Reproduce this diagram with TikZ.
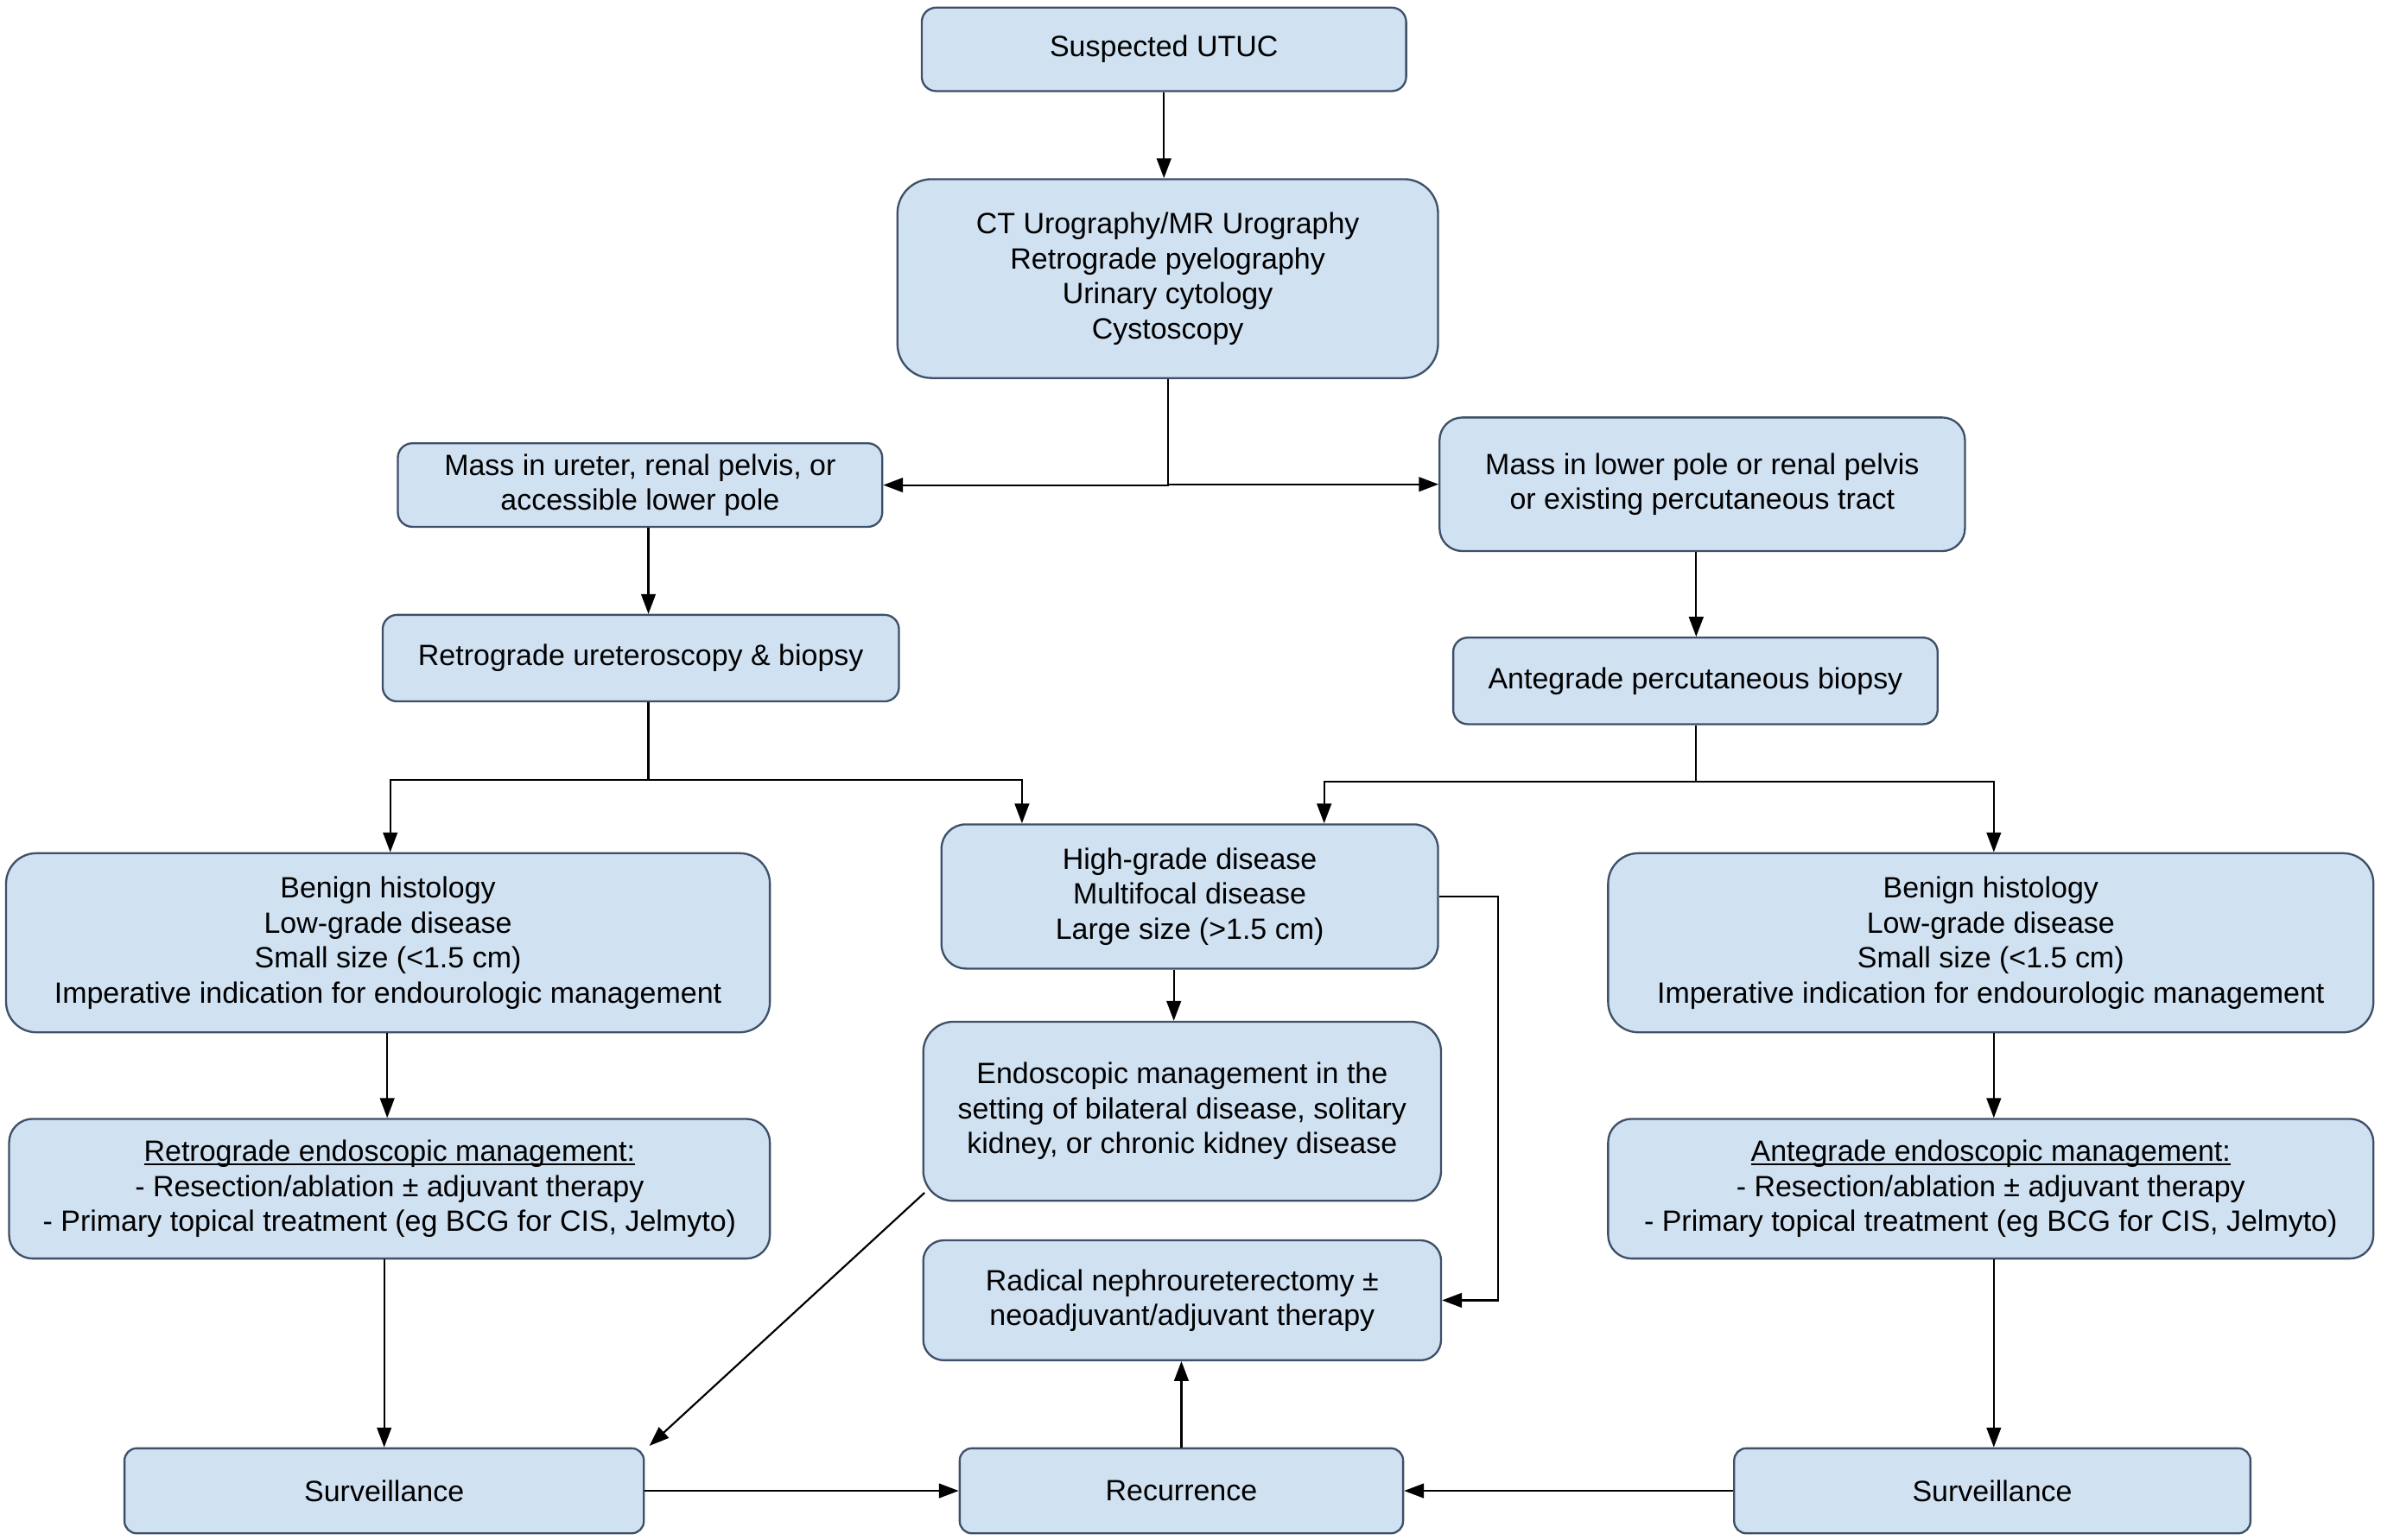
\documentclass[tikz,border=0pt]{standalone}
\usepackage{fontspec}
\setmainfont{Liberation Sans}
\usetikzlibrary{arrows.meta,calc}
\definecolor{boxfill}{RGB}{208,225,242}
\definecolor{boxline}{RGB}{62,80,104}
\newcommand{\myul}[1]{\setbox0\hbox{#1}\rlap{\rule[-1.3pt]{\wd0}{0.55pt}}\box0}
\tikzset{
  box/.style={draw=boxline, line width=0.75pt, fill=boxfill, align=center, inner sep=0pt,
    font=\fontsize{11pt}{13.1pt}\selectfont, text=black},
  arr/.style={draw=black, line width=0.7pt, -{Triangle[length=2.6mm,width=1.9mm]}},
  ln/.style={draw=black, line width=0.7pt}
}
\begin{document}
\begin{tikzpicture}
\useasboundingbox (0,0) rectangle (31.36,-20.28);
\fill[white] (0,0) rectangle (31.36,-20.28);

\node[box, rounded corners=0.19cm, minimum width=6.38cm, minimum height=1.10cm] (sus) at (15.33,-0.65) {Suspected UTUC};
\node[box, rounded corners=0.45cm, minimum width=7.12cm, minimum height=2.62cm] (ct) at (15.38,-3.67) {CT Urography/MR Urography\\Retrograde pyelography\\Urinary cytology\\Cystoscopy};
\node[box, rounded corners=0.19cm, minimum width=6.38cm, minimum height=1.10cm] (massL) at (8.43,-6.39) {Mass in ureter, renal pelvis, or\\accessible lower pole};
\node[box, rounded corners=0.30cm, minimum width=6.92cm, minimum height=1.76cm] (massR) at (22.42,-6.38) {Mass in lower pole or renal pelvis\\or existing percutaneous tract};
\node[box, rounded corners=0.19cm, minimum width=6.80cm, minimum height=1.14cm] (ureto) at (8.44,-8.67) {Retrograde ureteroscopy \& biopsy};
\node[box, rounded corners=0.19cm, minimum width=6.38cm, minimum height=1.14cm] (ante) at (22.33,-8.97) {Antegrade percutaneous biopsy};
\node[box, rounded corners=0.40cm, minimum width=10.06cm, minimum height=2.36cm] (benL) at (5.11,-12.42) {Benign histology\\Low-grade disease\\Small size (<1.5 cm)\\Imperative indication for endourologic management};
\node[box, rounded corners=0.32cm, minimum width=6.54cm, minimum height=1.90cm] (high) at (15.67,-11.81) {High-grade disease\\Multifocal disease\\Large size (>1.5 cm)};
\node[box, rounded corners=0.40cm, minimum width=10.08cm, minimum height=2.36cm] (benR) at (26.22,-12.42) {Benign histology\\Low-grade disease\\Small size (<1.5 cm)\\Imperative indication for endourologic management};
\node[box, rounded corners=0.31cm, minimum width=10.02cm, minimum height=1.84cm] (retM) at (5.13,-15.66) {\myul{Retrograde endoscopic management:}\\- Resection/ablation ± adjuvant therapy\\- Primary topical treatment (eg BCG for CIS, Jelmyto)};
\node[box, rounded corners=0.40cm, minimum width=6.82cm, minimum height=2.36cm] (endo) at (15.57,-14.64) {Endoscopic management in the\\setting of bilateral disease, solitary\\kidney, or chronic kidney disease};
\node[box, rounded corners=0.31cm, minimum width=10.08cm, minimum height=1.84cm] (antM) at (26.22,-15.66) {\myul{Antegrade endoscopic management:}\\- Resection/ablation ± adjuvant therapy\\- Primary topical treatment (eg BCG for CIS, Jelmyto)};
\node[box, rounded corners=0.27cm, minimum width=6.82cm, minimum height=1.58cm] (rad) at (15.57,-17.13) {Radical nephroureterectomy ±\\neoadjuvant/adjuvant therapy};
\node[box, rounded corners=0.16cm, minimum width=6.84cm, minimum height=1.12cm] (survL) at (5.06,-19.64) {Surveillance};
\node[box, rounded corners=0.16cm, minimum width=5.84cm, minimum height=1.12cm] (rec) at (15.56,-19.64) {Recurrence};
\node[box, rounded corners=0.16cm, minimum width=6.80cm, minimum height=1.12cm] (survR) at (26.24,-19.64) {Surveillance};

% connectors
\draw[arr] (sus.south) -- (sus.south |- ct.north);
\draw[arr] (ct.south) |- (massL.east);
\draw[arr] (ct.south) |- (massR.west);
\draw[arr] ([xshift=0.11cm]massL.south) -- ([xshift=0.11cm]massL.south |- ureto.north);
\draw[arr] ([xshift=-0.08cm]massR.south) -- ([xshift=-0.08cm]massR.south |- ante.north);

\coordinate (jL) at ($(ureto.south)+(0.1,-1.02)$);
\draw[ln] ([xshift=0.1cm]ureto.south) -- (jL);
\draw[arr] (jL) -| ([xshift=0.03cm]benL.north);
\draw[arr] (jL) -| ([xshift=-2.21cm]high.north);

\coordinate (jR) at ($(ante.south)+(0.01,-0.74)$);
\draw[ln] ([xshift=0.01cm]ante.south) -- (jR);
\draw[arr] (jR) -| ([xshift=1.77cm]high.north);
\draw[arr] (jR) -| ([xshift=0.04cm]benR.north);

\draw[arr] ([xshift=-0.01cm]benL.south) -- ([xshift=-0.01cm]benL.south |- retM.north);
\draw[arr] ([xshift=-0.07cm]retM.south) -- ([xshift=-0.07cm]retM.south |- survL.north);
\draw[arr] ([xshift=-0.21cm]high.south) -- ([xshift=-0.21cm]high.south |- endo.north);
\draw[arr] (high.east) -- ++(0.78,0) |- (rad.east);
\draw[arr] ([shift={(0.03,0.12)}]endo.south west) -- ([shift={(0.06,0.02)}]survL.north east);
\draw[arr] (rec.north) -- (rec.north |- rad.south);
\draw[arr] (survL.east) -- (rec.west);
\draw[arr] (survR.west) -- (rec.east);
\draw[arr] ([xshift=0.04cm]benR.south) -- ([xshift=0.04cm]benR.south |- antM.north);
\draw[arr] ([xshift=0.04cm]antM.south) -- ([xshift=0.04cm]antM.south |- survR.north);
\end{tikzpicture}
\end{document}
